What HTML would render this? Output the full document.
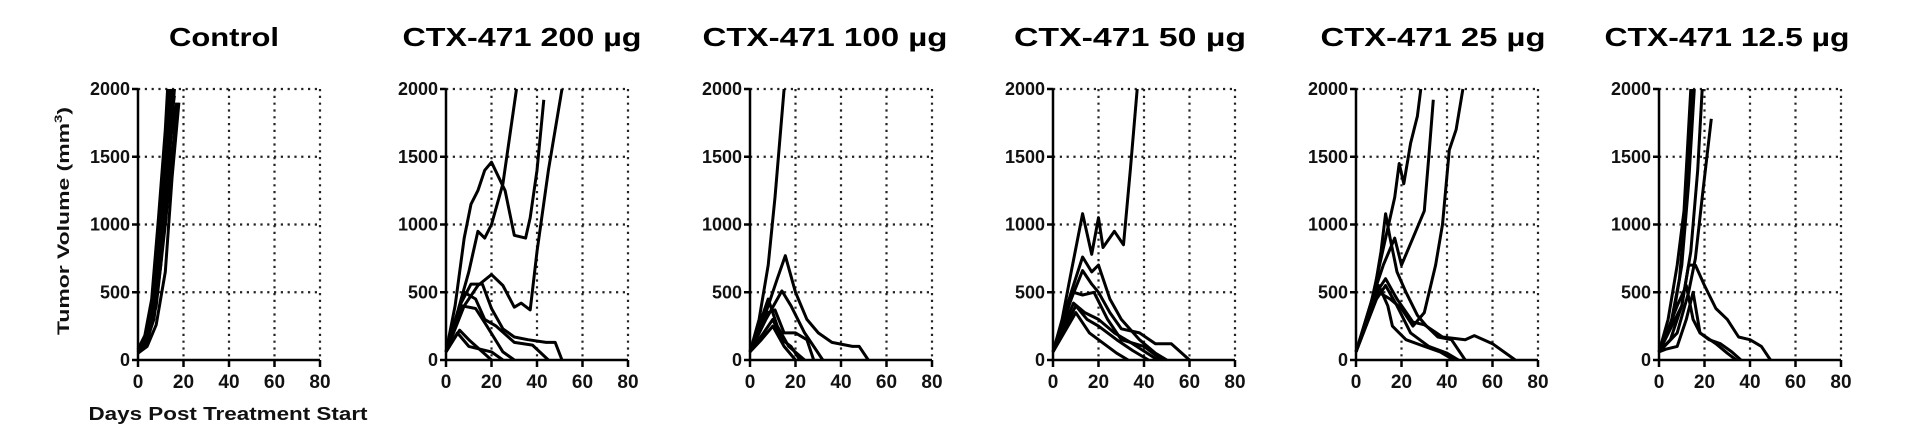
<!DOCTYPE html>
<html><head><meta charset="utf-8"><style>
html,body{margin:0;padding:0;background:#fff;}
svg{display:block;font-family:"Liberation Sans",Arial,sans-serif;}
</style></head><body>
<svg id="chart" width="1932" height="432" viewBox="0 0 1932 432" xmlns="http://www.w3.org/2000/svg"></svg>
<script>
const panelTitles = ["Control","CTX-471 200 µg","CTX-471 100 µg","CTX-471 50 µg","CTX-471 25 µg","CTX-471 12.5 µg"];
const xTicks = [0,20,40,60,80];
const yTicks = [0,500,1000,1500,2000];
const ctrlSeries = [
 [[0,60],[3,120],[7,350],[10,800],[13,1400],[15,2000]],
 [[0,50],[3,100],[7,300],[10,700],[13,1300],[16,2000]],
 [[0,70],[3,140],[6,400],[9,900],[12,1500],[14,2000]],
 [[0,60],[3,110],[7,330],[10,750],[14,1700],[16,1950]],
 [[0,55],[4,150],[7,380],[11,1000],[14,1600],[17,1900]],
 [[0,65],[3,130],[7,420],[10,950],[13,1500],[15,2000]],
 [[0,60],[4,160],[8,500],[11,1100],[14,1800],[16,2000]],
 [[0,50],[4,100],[8,260],[12,650],[15,1350],[18,1900]],
 [[0,80],[3,180],[6,450],[9,1050],[12,1700],[13,2000]],
 [[0,60],[4,130],[8,400],[12,1000],[15,1500],[17,1850]]
];
const dose200Series = [
 [[0,60],[4,400],[8,900],[11,1150],[14,1250],[17,1400],[20,1460],[26,1250],[30,920],[35,900],[37,1050],[40,1400],[43,1920]],
 [[0,60],[5,350],[10,650],[14,950],[17,900],[20,1000],[25,1300],[31,2000]],
 [[0,60],[8,400],[14,550],[20,630],[25,550],[30,390],[33,420],[37,370],[40,800],[45,1400],[51,2000]],
 [[0,60],[6,400],[11,560],[16,560],[20,380],[25,230],[30,170],[36,150],[44,130],[48,130],[51,0]],
 [[0,60],[8,500],[13,450],[17,300],[22,250],[30,130],[38,110],[45,0]],
 [[0,60],[6,220],[10,150],[16,60],[20,0]],
 [[0,60],[5,200],[10,100],[20,60],[25,0]],
 [[0,60],[7,400],[13,380],[18,250],[25,60],[30,0]]
];
const dose100Series = [
 [[0,60],[4,300],[8,700],[11,1200],[15,2000]],
 [[0,60],[6,300],[12,600],[15.5,770],[20,500],[25,300],[30,200],[36,130],[45,100],[48,100],[52,0]],
 [[0,60],[7,300],[14,510],[18,400],[24,200],[28,100],[32,0]],
 [[0,60],[8,350],[11,370],[15,200],[20,200],[25,150],[28,0]],
 [[0,60],[6,200],[10,300],[14,150],[18,100],[22,0]],
 [[0,60],[5,150],[10,250],[15,100],[20,0]],
 [[0,60],[8,450],[12,250],[17,100],[24,0]]
];
const dose50Series = [
 [[0,60],[4,300],[8,650],[13,1080],[17,780],[20,1050],[22,830],[27,950],[31,850],[34,1400],[37,2000]],
 [[0,60],[8,500],[13,760],[17,650],[20,700],[25,450],[30,300],[38,150],[45,50],[50,0]],
 [[0,60],[8,450],[13,660],[17,560],[20,500],[25,350],[30,230],[38,200],[45,120],[52,120],[60,0]],
 [[0,60],[9,500],[13,480],[18,500],[24,300],[30,150],[40,100],[48,0]],
 [[0,60],[10,400],[15,300],[20,250],[28,150],[35,70],[42,0]],
 [[0,60],[10,350],[16,200],[20,150],[28,50],[33,0]],
 [[0,60],[9,420],[14,350],[20,300],[27,200],[35,120],[46,0]]
];
const dose25Series = [
 [[0,60],[5,300],[9,600],[13,900],[17,1200],[19,1450],[21,1300],[24,1600],[27,1800],[28.5,2000]],
 [[0,60],[8,500],[12,700],[17,900],[20,700],[25,900],[30,1100],[32,1500],[34,1920]],
 [[0,60],[10,500],[15,450],[20,380],[25,250],[30,350],[35,700],[38,1000],[41,1550],[44,1700],[47,2000]],
 [[0,60],[8,500],[11,800],[13,1080],[15,900],[18,650],[22,500],[27,330],[31,250],[36,170],[42,150],[48,0]],
 [[0,60],[9,500],[13,600],[18,450],[25,280],[30,260],[38,170],[48,150],[52,180],[60,120],[70,0]],
 [[0,60],[10,550],[14,400],[16,250],[22,150],[30,100],[37,60],[43,0]],
 [[0,60],[9,450],[13,550],[18,400],[24,200],[32,100],[40,50],[45,0]]
];
const dose12Series = [
 [[0,60],[4,300],[8,700],[11,1100],[14,2000]],
 [[0,60],[5,250],[9,600],[12,1200],[15,2000]],
 [[0,60],[6,300],[10,700],[13,1300],[15.5,2000]],
 [[0,60],[5,150],[10,400],[14,800],[17,1400],[19,2000]],
 [[0,60],[8,200],[13,500],[16,750],[19,1200],[23,1780]],
 [[0,60],[10,400],[13,700],[16,700],[20,550],[25,380],[30,300],[35,170],[40,150],[45,100],[49,0]],
 [[0,60],[8,400],[12,550],[15,300],[18,200],[22,150],[27,120],[32,60],[36,0]],
 [[0,60],[3,80],[8,100],[12,300],[15,500],[18,200],[25,120],[30,50],[34,0]]
];
const allSeries = [ctrlSeries,dose200Series,dose100Series,dose50Series,dose25Series,dose12Series];

const NS="http://www.w3.org/2000/svg";
const svg=document.getElementById('chart');
const panelX0=[138,446,750,1053,1356,1659];
const titleCx=[224,522,825,1130,1433,1727];
const titleW=[110,239,245,232,225,245];
const PW=182, Y0=360, Y1=89;
function mk(tag,attrs,parent){const e=document.createElementNS(NS,tag);for(const k in attrs)e.setAttribute(k,attrs[k]);(parent||svg).appendChild(e);return e;}

panelTitles.forEach((t,i)=>{
  const x0=panelX0[i];
  const xs=d=>x0+d/80*PW;
  const ys=v=>Y0-v/2000*(Y0-Y1);
  const g=mk('g',{});
  
  
  const tt=mk('text',{x:titleCx[i],y:46,'text-anchor':'middle','font-size':26,'font-weight':'bold',textLength:titleW[i],lengthAdjust:'spacingAndGlyphs'},g);
  tt.textContent=t;
  
  
  yTicks.forEach(v=>{ if(v===0)return;
    const l=mk('line',{x1:x0,x2:x0+PW,y1:ys(v),y2:ys(v),stroke:'#222','stroke-width':2.2,'stroke-dasharray':'2.2,4.6'},g);
    
    
  });
  xTicks.forEach(d=>{ if(d===0)return;
    const l=mk('line',{x1:xs(d),x2:xs(d),y1:Y1,y2:Y0,stroke:'#222','stroke-width':2.2,'stroke-dasharray':'2.2,4.6'},g);
    
    
  });
  allSeries[i].forEach(s=>{
    const p=mk('polyline',{points:s.map(q=>xs(q[0]).toFixed(1)+','+ys(q[1]).toFixed(1)).join(' '),fill:'none',stroke:'#000','stroke-width':3,'stroke-linejoin':'round'},g);
    
    
  });
  const ya=mk('line',{x1:x0,x2:x0,y1:Y1,y2:Y0+1,stroke:'#000','stroke-width':2.5},g);
  
  
  const xa=mk('line',{x1:x0,x2:x0+PW,y1:Y0,y2:Y0,stroke:'#000','stroke-width':2.5},g);
  
  
  yTicks.forEach(v=>{
    mk('line',{x1:x0-6,x2:x0,y1:ys(v),y2:ys(v),stroke:'#000','stroke-width':2.5},g);
    const tl=mk('text',{x:x0-8,y:ys(v)+6,'text-anchor':'end','font-size':18,'font-weight':'bold',fill:'#111'},g);
    tl.textContent=v;
    
    
  });
  xTicks.forEach(d=>{
    mk('line',{x1:xs(d),x2:xs(d),y1:Y0,y2:Y0+7,stroke:'#000','stroke-width':2.5},g);
    const tl=mk('text',{x:xs(d),y:Y0+28,'text-anchor':'middle','font-size':19,'font-weight':'bold',fill:'#111'},g);
    tl.textContent=d;
    
    
  });
});
const yt=mk('text',{transform:'translate(69,221) rotate(-90)','text-anchor':'middle','font-size':17,'font-weight':'bold',fill:'#111',textLength:228,lengthAdjust:'spacingAndGlyphs'});
yt.innerHTML='Tumor Volume (mm<tspan dy="-7" font-size="11">3</tspan><tspan dy="7">)</tspan>';


const xt=mk('text',{x:228,y:420,'text-anchor':'middle','font-size':18,'font-weight':'bold',fill:'#111',textLength:279,lengthAdjust:'spacingAndGlyphs'});
xt.textContent='Days Post Treatment Start';


</script>
</body></html>
